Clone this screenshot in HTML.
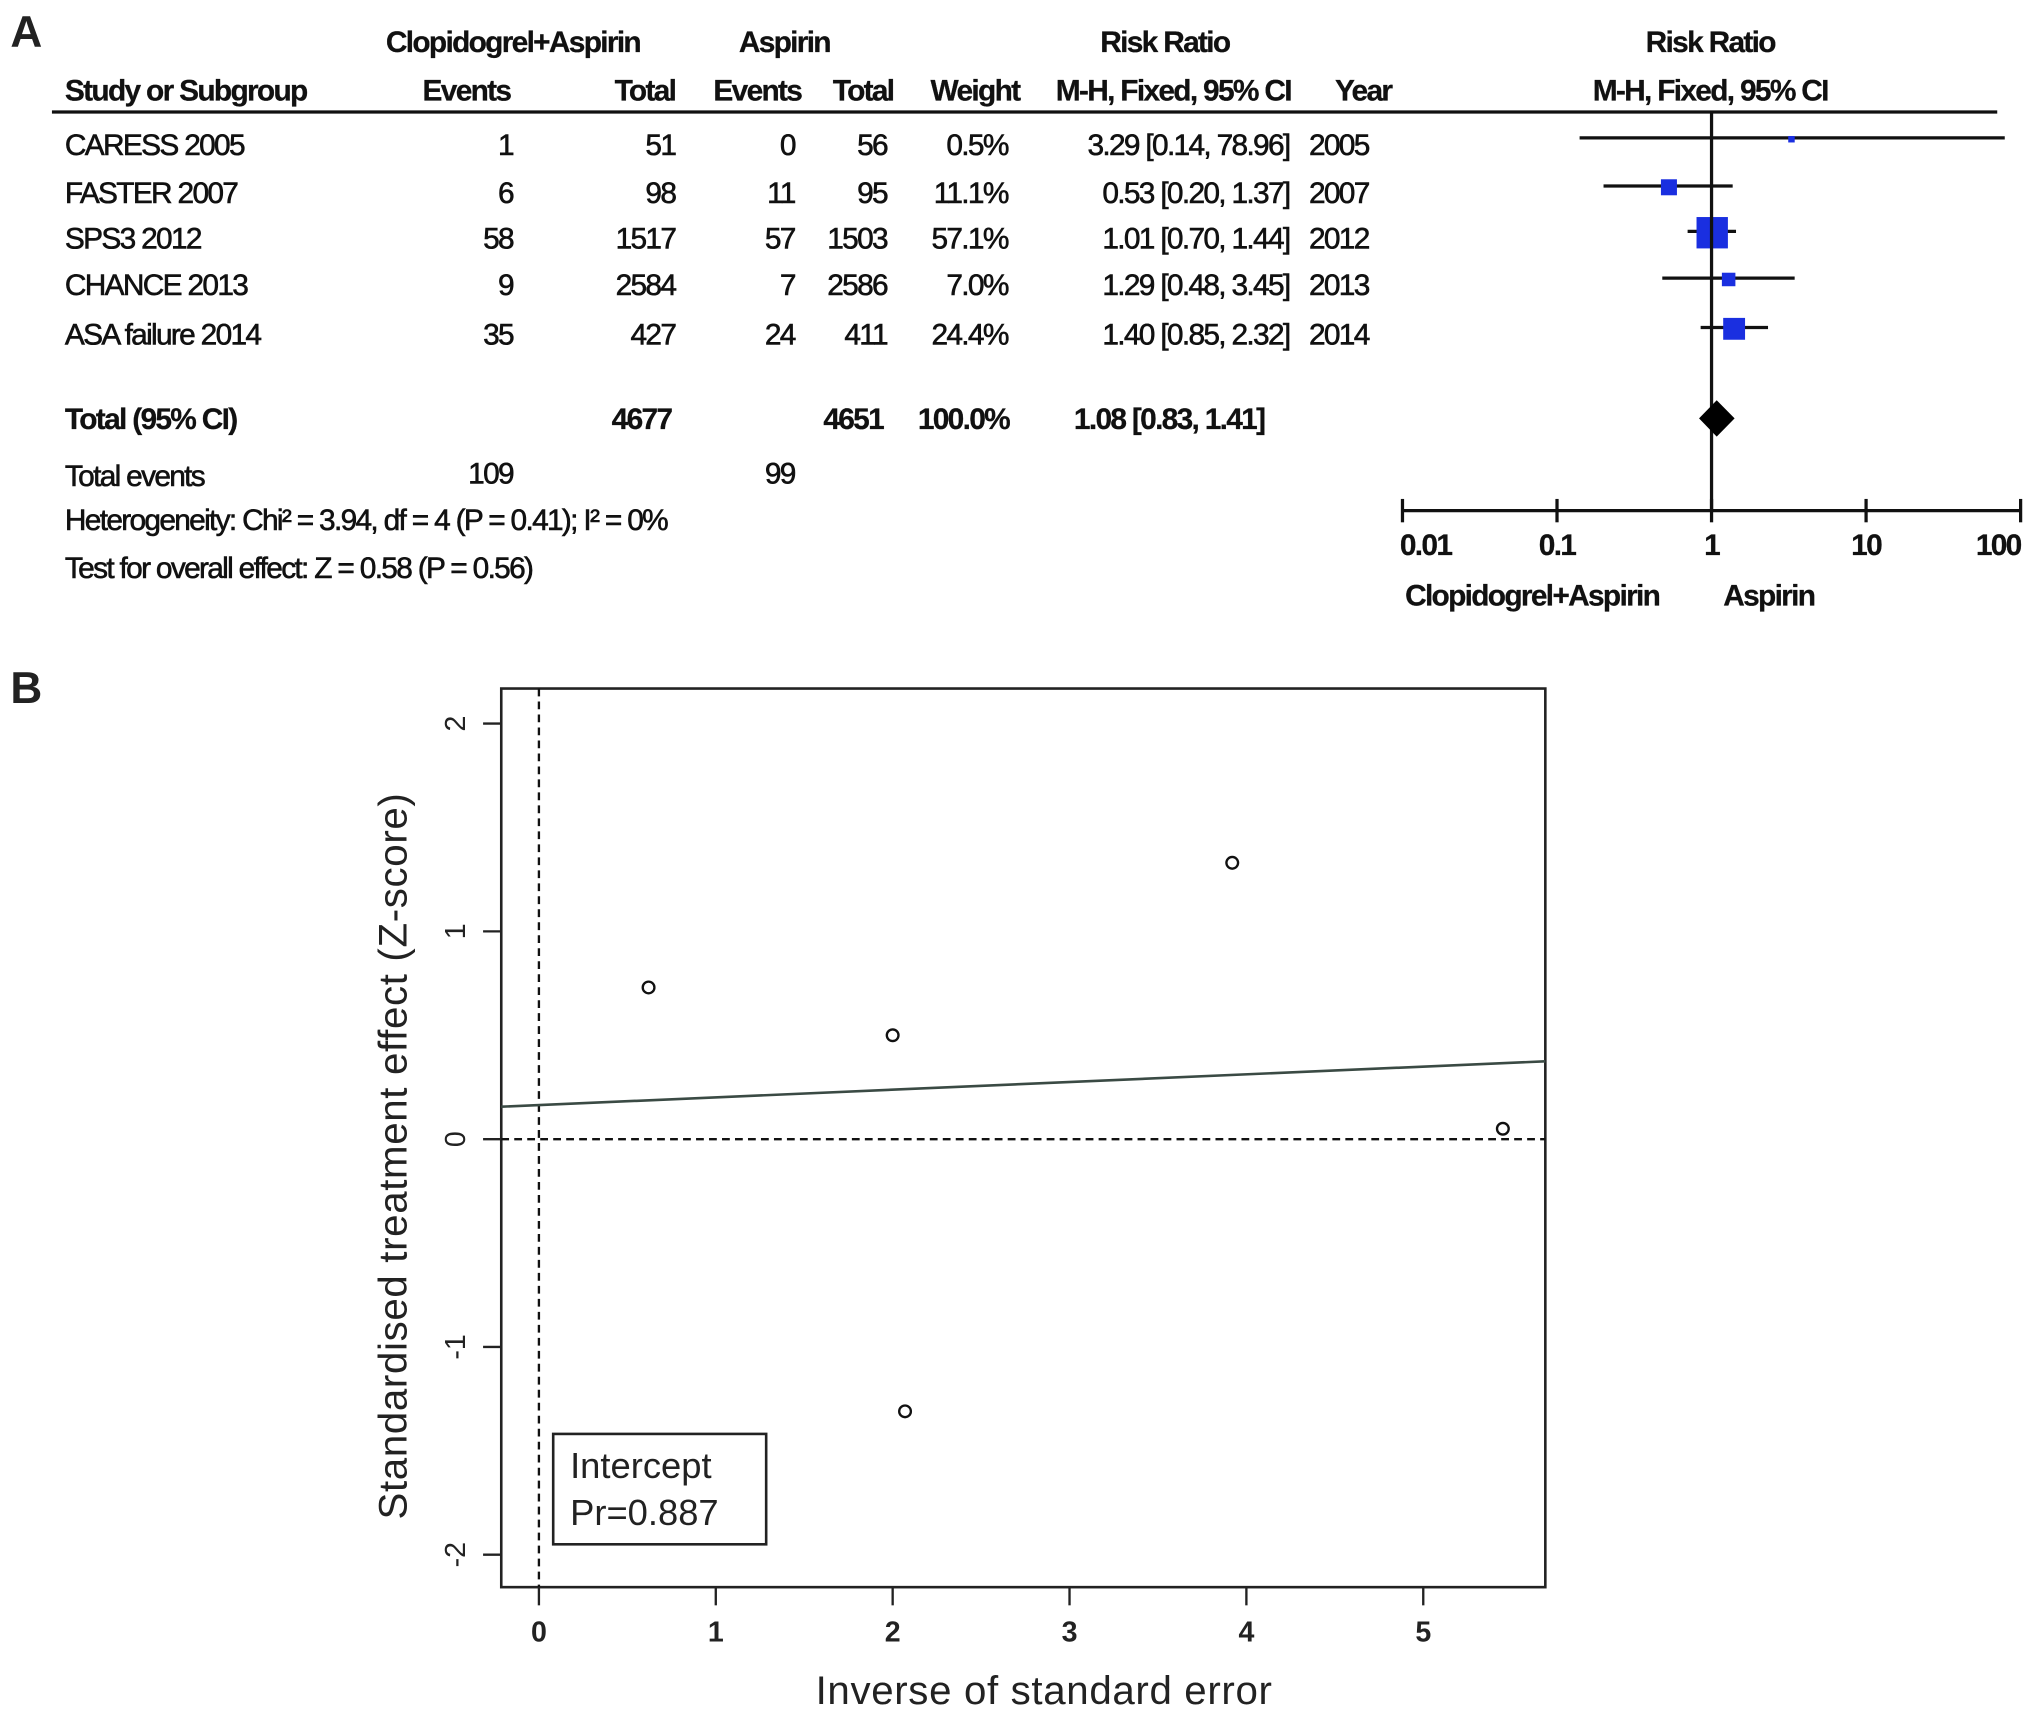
<!DOCTYPE html>
<html><head><meta charset="utf-8"><style>
html,body{margin:0;padding:0;background:#fff;}
svg{display:block;}
.t{font-family:"Liberation Sans",sans-serif;font-size:23px;letter-spacing:-1.3px;fill:#111;stroke:#111;stroke-width:0.45px;}
.b{font-weight:bold;stroke-width:0.2px;}
.p{font-family:"Liberation Sans",sans-serif;fill:#222;}
</style></head><body>
<svg id="fig" width="2031" height="1716" viewBox="0 0 1564 1321" xmlns="http://www.w3.org/2000/svg">
<text x="8" y="36" class="p" font-size="34" font-weight="bold">A</text>
<text x="8" y="541" class="p" font-size="34" font-weight="bold">B</text>
<g id="forest">
<text x="395" y="40" text-anchor="middle" class="t b">Clopidogrel+Aspirin</text>
<text x="604" y="40" text-anchor="middle" class="t b">Aspirin</text>
<text x="897" y="40" text-anchor="middle" class="t b">Risk Ratio</text>
<text x="1317" y="40" text-anchor="middle" class="t b">Risk Ratio</text>
<text x="50" y="77" class="t b">Study or Subgroup</text>
<text x="393" y="77" text-anchor="end" class="t b">Events</text>
<text x="520" y="77" text-anchor="end" class="t b">Total</text>
<text x="617" y="77" text-anchor="end" class="t b">Events</text>
<text x="688" y="77" text-anchor="end" class="t b">Total</text>
<text x="785" y="77" text-anchor="end" class="t b">Weight</text>
<text x="813" y="77" class="t b">M-H, Fixed, 95% CI</text>
<text x="1028" y="77" class="t b">Year</text>
<text x="1317" y="77" text-anchor="middle" class="t b">M-H, Fixed, 95% CI</text>
<line x1="40" y1="86" x2="1538" y2="86" stroke="#111" stroke-width="2.5"/>
<text x="50" y="330" class="t b">Total (95% CI)</text>
<text x="517" y="330" text-anchor="end" class="t b">4677</text>
<text x="680" y="330" text-anchor="end" class="t b">4651</text>
<text x="777" y="330" text-anchor="end" class="t b">100.0%</text>
<text x="827" y="330" class="t b">1.08 [0.83, 1.41]</text>
<text x="50" y="374" class="t">Total events</text>
<text x="395" y="372" text-anchor="end" class="t">109</text>
<text x="612" y="372" text-anchor="end" class="t">99</text>
<text x="50" y="408" class="t">Heterogeneity: Chi² = 3.94, df = 4 (P = 0.41); I² = 0%</text>
<text x="50" y="445" class="t">Test for overall effect: Z = 0.58 (P = 0.56)</text>
<text x="1082" y="466" class="t b">Clopidogrel+Aspirin</text>
<text x="1327" y="466" class="t b">Aspirin</text>
</g>
<g id="galb">
<rect x="386" y="530" width="804" height="692" fill="none" stroke="#222" stroke-width="2"/>
<text transform="translate(313,890) rotate(-90)" text-anchor="middle" class="p" font-size="31" letter-spacing="0.5">Standardised treatment effect (Z-score)</text>
<text x="804" y="1312" text-anchor="middle" class="p" font-size="31" letter-spacing="0.5">Inverse of standard error</text>
<rect x="426" y="1104" width="164" height="85" fill="#fff" stroke="#222" stroke-width="2"/>
<text x="439" y="1138" class="p" font-size="28">Intercept</text>
<text x="439" y="1174" class="p" font-size="28">Pr=0.887</text>
</g>
</svg>
<script>
const NS="http://www.w3.org/2000/svg";
// forest data
const studies=["CARESS 2005","FASTER 2007","SPS3 2012","CHANCE 2013","ASA failure 2014"];
const evT=[1,6,58,9,35];
const totT=[51,98,1517,2584,427];
const evC=[0,11,57,7,24];
const totC=[56,95,1503,2586,411];
const weights=[0.5,11.1,57.1,7.0,24.4];
const rr=[3.29,0.53,1.01,1.29,1.40];
const lo=[0.14,0.20,0.70,0.48,0.85];
const hi=[78.96,1.37,1.44,3.45,2.32];
const years=[2005,2007,2012,2013,2014];
const totalRR=[1.08];
const totalLo=[0.83];
const totalHi=[1.41];
const forestTicks=[0.01,0.1,1,10,100];
const forestTickLabels=["0.01","0.1","1","10","100"];
// galbraith data
const precision=[0.62,2.0,3.92,5.45,2.07];
const zscore=[0.73,0.5,1.33,0.05,-1.31];
const gxTicks=[0,1,2,3,4,5];
const gyTicks=[-2,-1,0,1,2];
const regIntercept=[0.164];
const regSlope=[0.037];

function mk(tag,attrs,parent,text){const e=document.createElementNS(NS,tag);for(const k in attrs)e.setAttribute(k,attrs[k]);if(text!==undefined)e.textContent=text;parent.appendChild(e);return e;}
const fx=v=>1318+119*Math.log10(v);
const rowY=i=>[111,148,183,219,257][i];
const F=document.getElementById('forest');
const fmt=v=>v.toFixed(2);
studies.forEach((s,i)=>{
  const y=rowY(i)+8;
  let e;
  e=mk('text',{x:50,y:y,class:'t'},F,s);
  
  
  const cols=[[395,evT[i]],[520,totT[i]],[612,evC[i]],[683,totC[i]],[776,weights[i].toFixed(1)+'%']];
  cols.forEach(c=>{e=mk('text',{x:c[0],y:y,'text-anchor':'end',class:'t'},F,String(c[1]));
    
    });
  e=mk('text',{x:993,y:y,'text-anchor':'end',class:'t'},F,fmt(rr[i])+' ['+fmt(lo[i])+', '+fmt(hi[i])+']');
  
  
  e=mk('text',{x:1008,y:y,class:'t'},F,String(years[i]));
  
  
  const yy=rowY(i)-5;
  e=mk('line',{x1:fx(lo[i]),x2:fx(hi[i]),y1:yy,y2:yy,stroke:'#111','stroke-width':2.5},F);
  
  
  const sz=3+Math.sqrt(weights[i])*2.8;
  e=mk('rect',{x:fx(rr[i])-sz/2,y:yy-sz/2+1,width:sz,height:sz,fill:'#1a2fe0'},F);
  
  
});
let e=mk('line',{x1:1318,x2:1318,y1:86,y2:393,stroke:'#111','stroke-width':2.5},F);


const dy=322;
e=mk('polygon',{points:`${fx(totalLo[0])},${dy} ${fx(totalRR[0])},${dy-14} ${fx(totalHi[0])},${dy} ${fx(totalRR[0])},${dy+14}`,fill:'#000'},F);


e=mk('line',{x1:fx(0.01),x2:fx(100),y1:393,y2:393,stroke:'#111','stroke-width':2.5},F);


forestTicks.forEach((t,i)=>{
  let e=mk('line',{x1:fx(t),x2:fx(t),y1:384,y2:402,stroke:'#111','stroke-width':2.5},F);
  
  
  const anchor=i==0?'start':(i==forestTicks.length-1?'end':'middle');
  e=mk('text',{x:fx(t)+(i==0?-2:0),y:427,'text-anchor':anchor,class:'t b'},F,forestTickLabels[i]);
  
  
});
// galbraith
const G=document.getElementById('galb');
const gx=v=>415+136.2*v;
const gy=v=>877-160*v;
e=mk('line',{x1:gx(0),x2:gx(0),y1:530,y2:1222,stroke:'#111','stroke-width':1.8,'stroke-dasharray':'6,4'},G);


e=mk('line',{x1:386,x2:1190,y1:gy(0),y2:gy(0),stroke:'#111','stroke-width':1.8,'stroke-dasharray':'6,4'},G);


const xa=(386-415)/136.2, xb=(1190-415)/136.2;
e=mk('line',{x1:386,x2:1190,y1:gy(regIntercept[0]+regSlope[0]*xa),y2:gy(regIntercept[0]+regSlope[0]*xb),stroke:'#3a4a44','stroke-width':2},G);


precision.forEach((p,i)=>{
  let e=mk('circle',{cx:gx(p),cy:gy(zscore[i]),r:4.5,fill:'none',stroke:'#111','stroke-width':1.8},G);
  
  
});
gxTicks.forEach(t=>{
  let e=mk('line',{x1:gx(t),x2:gx(t),y1:1222,y2:1236,stroke:'#222','stroke-width':1.8},G);
  
  
  e=mk('text',{x:gx(t),y:1264,'text-anchor':'middle',class:'p','font-size':22,'font-weight':'bold'},G,String(t));
  
  
});
gyTicks.forEach(t=>{
  let e=mk('line',{x1:372,x2:386,y1:gy(t),y2:gy(t),stroke:'#222','stroke-width':1.8},G);
  
  
  e=mk('text',{transform:`translate(358,${gy(t)}) rotate(-90)`,'text-anchor':'middle',class:'p','font-size':22},G,String(t));
  
  
});
</script>
</body></html>
